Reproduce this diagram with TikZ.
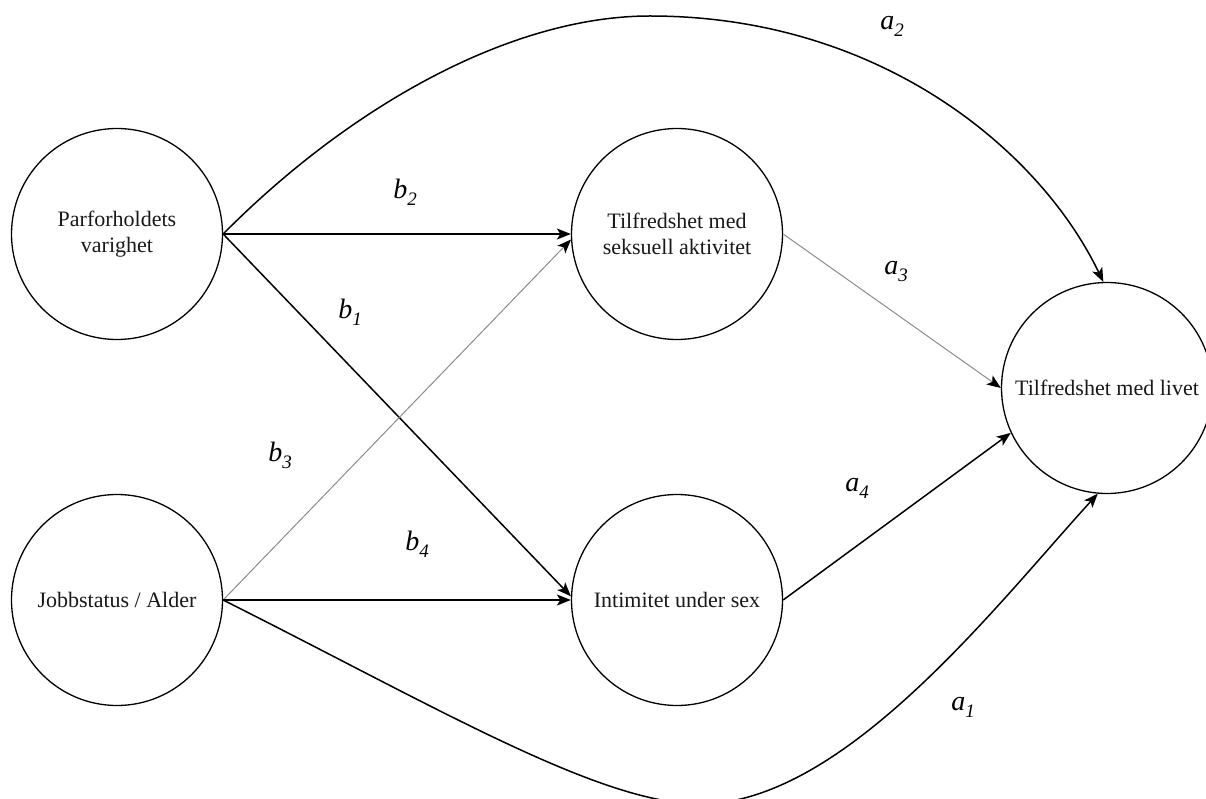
\documentclass[tikz,border=0pt]{standalone}
\usepackage{fontspec}
\setmainfont{Liberation Serif}
\usetikzlibrary{arrows.meta}
\newcommand{\lab}[2]{#1\raisebox{-7pt}{\fontsize{19}{19}\selectfont #2}}
\begin{document}
\begin{tikzpicture}[x=1pt,y=-1pt,
  var/.style={draw, circle, line width=1.3pt, minimum size=211pt, inner sep=0pt,
    align=center, font=\fontsize{22}{26}\selectfont, text=black!90},
  blk/.style={line width=1.5pt, -{Stealth[length=14pt,width=11pt,inset=3.5pt]}},
  gry/.style={line width=1pt, draw=black!45, -{Stealth[length=14pt,width=11pt,inset=3.5pt,color=black]}},
  lbl/.style={inner sep=0pt, font=\fontsize{28}{30}\selectfont\itshape}]
\useasboundingbox (0,0) rectangle (1206,799);
\fill[white] (0,0) rectangle (1206,799);

\node[var] (A) at (117,234) {Parforholdets\\varighet};
\node[var] (B) at (117,600) {Jobbstatus / Alder};
\node[var] (C) at (677,234) {Tilfredshet med\\seksuell aktivitet};
\node[var] (D) at (677,600) {Intimitet under sex};
\node[var] (E) at (1107,388) {Tilfredshet med livet};

\coordinate (top) at (650,16);
\coordinate (low) at (700,804);

% straight connectors
\draw[blk] (A.east) -- (C.west);
\draw[blk] (A.east) -- (D.178);
\draw[gry] (B.east) -- (C.183);
\draw[blk] (B.east) -- (D.west);
\draw[gry] (C.east) -- (E.180);
\draw[blk] (D.east) -- (E.205);

% curved connectors
\draw[blk] (A.east) .. controls (349,107) and (510,16) .. (top)
  .. controls (880,16) and (1040,150) .. (E.92);
\draw[blk] (B.east) .. controls (438,708) and (600,804) .. (low)
  .. controls (844,804) and (997,604) .. (E.265);

% labels
\node[lbl] (la2) at (892,26) {\lab{a}{2}};
\node[lbl] (lb2) at (405,192) {\lab{b}{2}};
\node[lbl] (lb1) at (350,312) {\lab{b}{1}};
\node[lbl] (lb3) at (280,455) {\lab{b}{3}};
\node[lbl] (lb4) at (417,544) {\lab{b}{4}};
\node[lbl] (la3) at (896,272) {\lab{a}{3}};
\node[lbl] (la4) at (857,488) {\lab{a}{4}};
\node[lbl] (la1) at (963,707) {\lab{a}{1}};
\end{tikzpicture}
\end{document}
